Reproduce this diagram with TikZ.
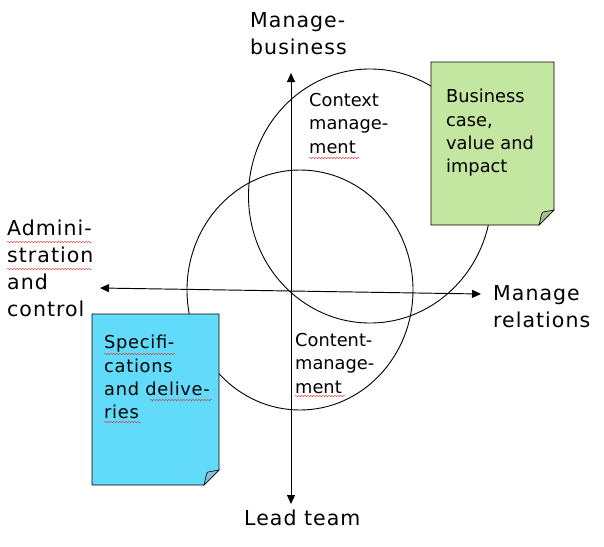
\documentclass[tikz,border=0pt]{standalone}
\usepackage{fontspec}
\setmainfont{DejaVu Sans}
\newfontfamily\widesans[LetterSpace=5]{DejaVu Sans}
\newfontfamily\midsans[LetterSpace=4]{DejaVu Sans}
\usetikzlibrary{arrows.meta,decorations.pathmorphing,shapes.geometric}
\definecolor{notegreen}{HTML}{C3E6A0}
\definecolor{foldgreen}{HTML}{A3BE8C}
\definecolor{noteblue}{HTML}{62DBFA}
\definecolor{foldblue}{HTML}{86BFD6}
\definecolor{spellred}{HTML}{D04040}
\tikzset{
  axislabel/.style={anchor=north west,inner sep=0pt,align=left,font=\widesans\fontsize{20.5}{27}\selectfont},
  zonelabel/.style={anchor=north west,inner sep=0pt,align=left,font=\fontsize{17.8}{23.4}\selectfont},
  zone/.style={draw,ellipse,inner sep=0pt,line width=0.9pt},
  axis/.style={line width=0.95pt,-{Triangle[length=9pt,width=8pt]}},
  notebox/.style={draw,line width=0.8pt},
  squiggle/.style={spellred,line width=0.45pt,decorate,decoration={snake,amplitude=0.7pt,segment length=3pt}}
}
\begin{document}
\begin{tikzpicture}[x=1pt,y=-1pt]
\useasboundingbox (0,0) rectangle (604,546);
% circles
\node[zone,minimum width=243pt,minimum height=254pt] (ctx) at (370,196) {};
\node[zone,minimum width=226pt,minimum height=240pt] (cnt) at (300,290) {};
% axes
\coordinate (top) at (291,73);
\coordinate (bot) at (291,504);
\coordinate (lft) at (100,288);
\coordinate (rgt) at (481,294);
\coordinate (hmid) at (291,291);
\draw[axis] (hmid) -- (top);
\draw[axis] (hmid) -- (bot);
\draw[axis] (hmid) -- (lft);
\draw[axis] (hmid) -- (rgt);
% green note
\draw[notebox,fill=notegreen] (431,62) -- (554,62) -- (554,210) -- (539,225) -- (431,225) -- cycle;
\draw[line width=0.6pt,fill=foldgreen] (539,225) .. controls (541,218) and (541,213) .. (543,212) -- (554,210) -- cycle;
% blue note
\draw[notebox,fill=noteblue] (92,314) -- (219,314) -- (219,470) -- (204,485) -- (92,485) -- cycle;
\draw[line width=0.6pt,fill=foldblue] (204,485) .. controls (206,478) and (206,473) .. (208,472) -- (219,470) -- cycle;
% labels
\node[axislabel] (mb) at (250,12) {Manage-\\business};
\node[axislabel] (ac) at (7,220) {Admini-\\stration\\and\\control};
\node[axislabel] (mr) at (493,285) {Manage\\relations};
\node[axislabel] (lt) at (244,510) {Lead team};
\node[zonelabel] (cm) at (309,93) {Context\\manage-\\ment};
\node[zonelabel] (tm) at (295,333) {Content-\\manage-\\ment};
\node[zonelabel] (bc) at (446,89) {Business\\case,\\value and\\impact};
\node[zonelabel,font=\midsans\fontsize{17.8}{23.4}\selectfont] (sd) at (104,335) {Specifi-\\cations\\and delive-\\ries};
% spell-check marks
\draw[squiggle] (7,242) -- (92,242);
\draw[squiggle] (7,269) -- (92,269);
\draw[squiggle] (309,158) -- (360,158);
\draw[squiggle] (295,396) -- (345,396);
\draw[squiggle] (104,354) -- (176,354);
\draw[squiggle] (150,400) -- (212,400);
\draw[squiggle] (104,422) -- (141,422);
\end{tikzpicture}
\end{document}
